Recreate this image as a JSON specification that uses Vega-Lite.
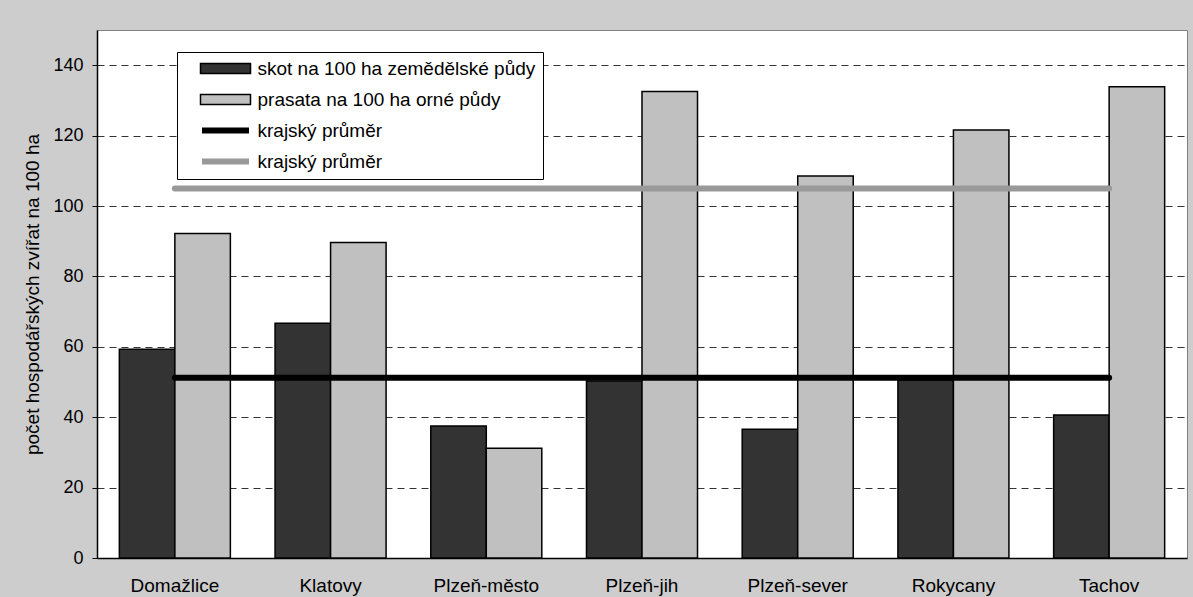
{
  "$schema": "https://vega.github.io/schema/vega-lite/v6.json",
  "width": 1090,
  "height": 528,
  "autosize": {"type": "none"},
  "padding": {"left": 97, "top": 30, "right": 6, "bottom": 39},
  "background": "#cdcdcd",
  "config": {
    "font": "Liberation Sans",
    "view": {"fill": "white", "stroke": "#808080", "strokeWidth": 1},
    "legend": {
      "symbolSize": 100,
      "symbolOpacity": 1,
      "labelFontSize": 19,
      "labelColor": "black",
      "labelLimit": 500,
      "rowPadding": 11,
      "padding": 7,
      "strokeColor": "black",
      "fillColor": "white",
      "symbolOffset": 32,
      "labelOffset": 22.5
    }
  },
  "data": {
    "values": [
      {"okres": "Domažlice", "serie": "skot na 100 ha zemědělské půdy", "hodnota": 59.3},
      {"okres": "Domažlice", "serie": "prasata na 100 ha orné půdy", "hodnota": 92.2},
      {"okres": "Klatovy", "serie": "skot na 100 ha zemědělské půdy", "hodnota": 66.7},
      {"okres": "Klatovy", "serie": "prasata na 100 ha orné půdy", "hodnota": 89.6},
      {"okres": "Plzeň-město", "serie": "skot na 100 ha zemědělské půdy", "hodnota": 37.5},
      {"okres": "Plzeň-město", "serie": "prasata na 100 ha orné půdy", "hodnota": 31.2},
      {"okres": "Plzeň-jih", "serie": "skot na 100 ha zemědělské půdy", "hodnota": 50.3},
      {"okres": "Plzeň-jih", "serie": "prasata na 100 ha orné půdy", "hodnota": 132.5},
      {"okres": "Plzeň-sever", "serie": "skot na 100 ha zemědělské půdy", "hodnota": 36.6},
      {"okres": "Plzeň-sever", "serie": "prasata na 100 ha orné půdy", "hodnota": 108.5},
      {"okres": "Rokycany", "serie": "skot na 100 ha zemědělské půdy", "hodnota": 50.6},
      {"okres": "Rokycany", "serie": "prasata na 100 ha orné půdy", "hodnota": 121.6},
      {"okres": "Tachov", "serie": "skot na 100 ha zemědělské půdy", "hodnota": 40.6},
      {"okres": "Tachov", "serie": "prasata na 100 ha orné půdy", "hodnota": 133.9},
      {"okres": "Domažlice", "serie": "krajský průměr – skot", "hodnota": 51.2},
      {"okres": "Klatovy", "serie": "krajský průměr – skot", "hodnota": 51.2},
      {"okres": "Plzeň-město", "serie": "krajský průměr – skot", "hodnota": 51.2},
      {"okres": "Plzeň-jih", "serie": "krajský průměr – skot", "hodnota": 51.2},
      {"okres": "Plzeň-sever", "serie": "krajský průměr – skot", "hodnota": 51.2},
      {"okres": "Rokycany", "serie": "krajský průměr – skot", "hodnota": 51.2},
      {"okres": "Tachov", "serie": "krajský průměr – skot", "hodnota": 51.2},
      {"okres": "Domažlice", "serie": "krajský průměr – prasata", "hodnota": 105.0},
      {"okres": "Klatovy", "serie": "krajský průměr – prasata", "hodnota": 105.0},
      {"okres": "Plzeň-město", "serie": "krajský průměr – prasata", "hodnota": 105.0},
      {"okres": "Plzeň-jih", "serie": "krajský průměr – prasata", "hodnota": 105.0},
      {"okres": "Plzeň-sever", "serie": "krajský průměr – prasata", "hodnota": 105.0},
      {"okres": "Rokycany", "serie": "krajský průměr – prasata", "hodnota": 105.0},
      {"okres": "Tachov", "serie": "krajský průměr – prasata", "hodnota": 105.0}
    ]
  },
  "encoding": {
    "x": {
      "field": "okres",
      "type": "nominal",
      "sort": null,
      "scale": {"paddingInner": 0.287, "paddingOuter": 0.1435},
      "axis": {
        "title": null,
        "ticks": false,
        "labelAngle": 0,
        "labelFontSize": 19,
        "labelColor": "black",
        "labelPadding": 18,
        "domainColor": "black",
        "domainWidth": 1.5
      }
    },
    "y": {
      "field": "hodnota",
      "type": "quantitative",
      "scale": {"domain": [0, 150], "nice": false},
      "axis": {
        "values": [0, 20, 40, 60, 80, 100, 120, 140],
        "title": "počet hospodářských zvířat na 100 ha",
        "titleFontSize": 19,
        "titleFontWeight": "normal",
        "titleColor": "black",
        "titlePadding": 10,
        "labelFontSize": 18,
        "labelColor": "black",
        "labelPadding": 9,
        "tickSize": 5,
        "tickColor": "black",
        "domainColor": "black",
        "domainWidth": 1.5,
        "grid": true,
        "gridDash": [7, 5],
        "gridColor": "#333333",
        "gridOpacity": 1
      }
    }
  },
  "layer": [
    {
      "transform": [{"filter": "indexof(datum.serie, 'krajský') != 0"}],
      "mark": {"type": "bar", "stroke": "black", "opacity": 1},
      "encoding": {
        "xOffset": {
          "field": "serie",
          "type": "nominal",
          "sort": ["skot na 100 ha zemědělské půdy", "prasata na 100 ha orné půdy"],
          "scale": {"paddingInner": 0, "paddingOuter": 0}
        },
        "color": {
          "field": "serie",
          "type": "nominal",
          "scale": {
            "domain": ["skot na 100 ha zemědělské půdy", "prasata na 100 ha orné půdy", "krajský průměr – skot", "krajský průměr – prasata"],
            "range": ["#333333", "#c0c0c0", "#000000", "#999999"]
          },
          "legend": {
            "title": null, "orient": "none", "legendX": 80, "legendY": 22, "direction": "vertical",
            "labelExpr": "indexof(datum.label, 'krajský') == 0 ? 'krajský průměr' : datum.label"
          }
        },
        "strokeWidth": {
          "field": "serie",
          "type": "nominal",
          "scale": {
            "type": "ordinal",
            "domain": ["skot na 100 ha zemědělské půdy", "prasata na 100 ha orné půdy", "krajský průměr – skot", "krajský průměr – prasata"],
            "range": [1.5, 1.5, 0, 0]
          },
          "legend": {
            "title": null, "orient": "none", "legendX": 80, "legendY": 22, "direction": "vertical",
            "labelExpr": "indexof(datum.label, 'krajský') == 0 ? 'krajský průměr' : datum.label"
          }
        }
      }
    },
    {
      "transform": [{"filter": "indexof(datum.serie, 'krajský') == 0"}],
      "mark": {"type": "line", "strokeWidth": 6, "strokeCap": "round", "opacity": 1},
      "encoding": {
        "stroke": {
          "field": "serie",
          "type": "nominal",
          "scale": {
            "domain": ["skot na 100 ha zemědělské půdy", "prasata na 100 ha orné půdy", "krajský průměr – skot", "krajský průměr – prasata"],
            "range": ["#000000", "#000000", "#000000", "#999999"]
          },
          "legend": {
            "title": null, "orient": "none", "legendX": 80, "legendY": 22, "direction": "vertical",
            "labelExpr": "indexof(datum.label, 'krajský') == 0 ? 'krajský průměr' : datum.label"
          }
        }
      }
    },
    {
      "transform": [{"filter": "indexof(datum.serie, 'krajský') != 0"}],
      "mark": {"type": "point", "filled": true, "opacity": 0},
      "encoding": {
        "xOffset": {
          "field": "serie",
          "type": "nominal",
          "sort": ["skot na 100 ha zemědělské půdy", "prasata na 100 ha orné půdy"],
          "scale": {"paddingInner": 0, "paddingOuter": 0}
        },
        "color": {"field": "serie", "type": "nominal"},
        "shape": {
          "field": "serie",
          "type": "nominal",
          "scale": {
            "domain": ["skot na 100 ha zemědělské půdy", "prasata na 100 ha orné půdy", "krajský průměr – skot", "krajský průměr – prasata"],
            "range": ["M-5,-1H5V1H-5Z", "M-5,-1H5V1H-5Z", "M-4.7,-0.6H4.7V0.6H-4.7Z", "M-4.7,-0.6H4.7V0.6H-4.7Z"]
          },
          "legend": {
            "title": null, "orient": "none", "legendX": 80, "legendY": 22, "direction": "vertical",
            "labelExpr": "indexof(datum.label, 'krajský') == 0 ? 'krajský průměr' : datum.label"
          }
        }
      }
    }
  ]
}
